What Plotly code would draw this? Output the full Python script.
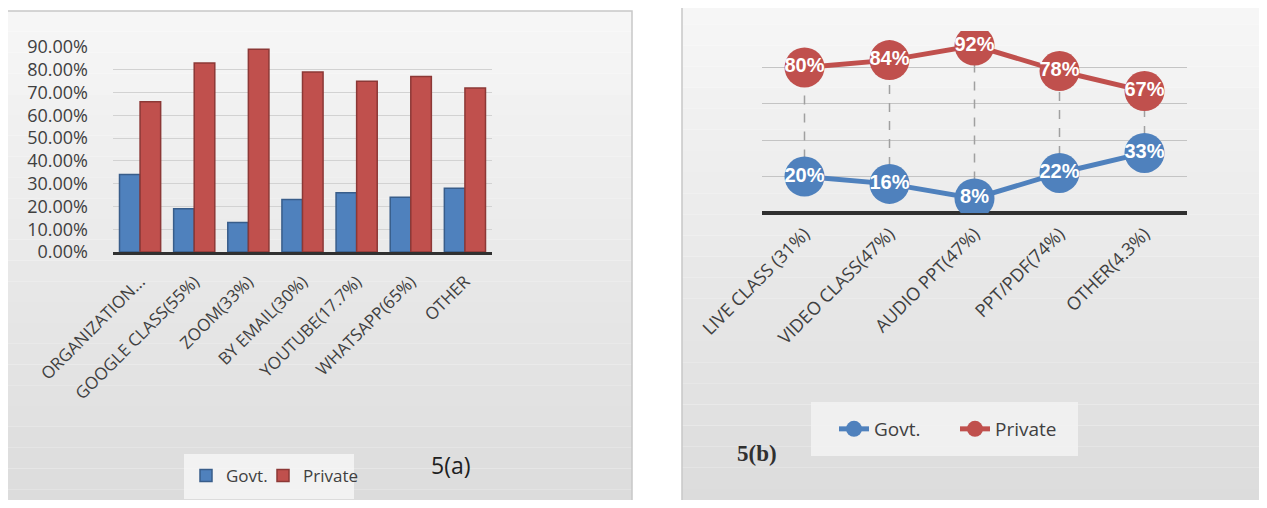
import plotly.graph_objects as go

# page has an 8px body margin; size the figure so that no scrollbars appear
OFF = 8
W, H = 1267 - 2 * OFF, 508 - 2 * OFF

# ---- data: 5(a) ----
cats_a = ["ORGANIZATION...", "GOOGLE CLASS(55%)", "ZOOM(33%)", "BY EMAIL(30%)",
          "YOUTUBE(17.7%)", "WHATSAPP(65%)", "OTHER"]
govt_a = [0.34, 0.19, 0.13, 0.23, 0.26, 0.24, 0.28]
priv_a = [0.66, 0.83, 0.89, 0.79, 0.75, 0.77, 0.72]
yticks_a = [0.0, 0.1, 0.2, 0.3, 0.4, 0.5, 0.6, 0.7, 0.8, 0.9]

# ---- data: 5(b) ----
cats_b = ["LIVE CLASS (31%)", "VIDEO CLASS(47%)", "AUDIO PPT(47%)", "PPT/PDF(74%)", "OTHER(4.3%)"]
govt_b = [20, 16, 8, 22, 33]
priv_b = [80, 84, 92, 78, 67]

BLUE = "#4F81BD"
RED = "#C0504D"
TXT = "#404040"
FONT = "Open Sans"


def px(x):
    return (x - OFF) / W


def py(y):
    return 1 - (y - OFF) / H


fig = go.Figure()

# --- left: bars ---
fig.add_trace(go.Bar(x=cats_a, y=govt_a, name="Govt.", marker=dict(color=BLUE, line=dict(color="#385D8A", width=1.5)),
                     xaxis="x", yaxis="y", legend="legend"))
fig.add_trace(go.Bar(x=cats_a, y=priv_a, name="Private", marker=dict(color=RED, line=dict(color="#8C3836", width=1.5)),
                     xaxis="x", yaxis="y", legend="legend3"))

# --- right: lines ---
drop_x, drop_y = [], []
for c, g, p in zip(cats_b, govt_b, priv_b):
    drop_x += [c, c, None]
    drop_y += [g, p, None]
fig.add_trace(go.Scatter(x=drop_x, y=drop_y, mode="lines", line=dict(color="#a0a0a0", width=1.5, dash="dash"),
                         showlegend=False, hoverinfo="skip", xaxis="x2", yaxis="y2"))
fig.add_trace(go.Scatter(x=cats_b, y=govt_b, name="Govt.", mode="lines+markers+text",
                         line=dict(color=BLUE, width=5), marker=dict(color=BLUE, size=40),
                         text=[f"{v}%" for v in govt_b], textposition="middle center",
                         textfont=dict(color="white", size=20, family="Liberation Sans", weight="bold"),
                         xaxis="x2", yaxis="y2", legend="legend2"))
fig.add_trace(go.Scatter(x=cats_b, y=priv_b, name="Private", mode="lines+markers+text",
                         line=dict(color=RED, width=5), marker=dict(color=RED, size=40),
                         text=[f"{v}%" for v in priv_b], textposition="middle center",
                         textfont=dict(color="white", size=20, family="Liberation Sans", weight="bold"),
                         xaxis="x2", yaxis="y2", legend="legend4"))

# --- panel backgrounds (vertical gradient bands) ---
shapes = []
nb = 24
for i in range(nb):
    t = i / (nb - 1)
    v = int(round(246 - t * 26))
    col = f"rgb({v},{v},{v})"
    y0 = py(11 + (510 - 11) * i / nb)
    y1 = py(11 + (510 - 11) * (i + 1) / nb)
    shapes.append(dict(type="rect", xref="paper", yref="paper", x0=px(7), x1=px(632), y0=y1, y1=y0,
                       fillcolor=col, line=dict(width=0), layer="below"))
    y0b = py(3 + (510 - 3) * i / nb)
    y1b = py(3 + (510 - 3) * (i + 1) / nb)
    shapes.append(dict(type="rect", xref="paper", yref="paper", x0=px(682), x1=px(1270), y0=y1b, y1=y0b,
                       fillcolor=col, line=dict(width=0), layer="below"))
# panel borders
shapes.append(dict(type="rect", xref="paper", yref="paper", x0=px(7), x1=px(632), y0=py(512), y1=py(11),
                   line=dict(color="#c8c8c8", width=1.5), fillcolor="rgba(0,0,0,0)", layer="below"))
shapes.append(dict(type="rect", xref="paper", yref="paper", x0=px(682), x1=px(1280), y0=py(512), y1=py(3),
                   line=dict(color="#c8c8c8", width=1.5), fillcolor="rgba(0,0,0,0)", layer="below"))
# legend boxes
shapes.append(dict(type="rect", xref="paper", yref="paper", x0=px(184), x1=px(354), y0=py(499), y1=py(454),
                   line=dict(width=0), fillcolor="rgba(246,246,246,0.85)", layer="below"))
shapes.append(dict(type="rect", xref="paper", yref="paper", x0=px(811), x1=px(1078), y0=py(456), y1=py(402),
                   line=dict(width=0), fillcolor="rgba(242,242,242,0.9)", layer="below"))


def leg(x, y, size):
    return dict(x=px(x), y=py(y), xanchor="left", yanchor="middle", orientation="h",
                bgcolor="rgba(0,0,0,0)", font=dict(size=size, color=TXT), itemwidth=30, borderwidth=0)


fig.update_layout(
    width=W, height=H,
    autosize=False,
    margin=dict(l=0, r=0, t=0, b=0, pad=0, autoexpand=False),
    paper_bgcolor="white",
    plot_bgcolor="rgba(0,0,0,0)",
    font=dict(family=FONT, color=TXT),
    shapes=shapes,
    barmode="group", bargap=0.24, bargroupgap=0.0,
    xaxis=dict(domain=[px(113), px(492)], anchor="y", tickangle=-45, tickfont=dict(size=17, color=TXT),
               showline=True, linecolor="#303030", linewidth=3, showgrid=False, ticks="", fixedrange=True,
               automargin=False, ticklabelstandoff=10),
    yaxis=dict(domain=[py(252), py(47)], anchor="x", range=[0, 0.9], tickvals=yticks_a, tickformat=".2%",
               tickfont=dict(size=18, color=TXT), showgrid=True, gridcolor="#d2d2d2", gridwidth=1,
               zeroline=False, ticklabelstandoff=24, showline=False, automargin=False),
    xaxis2=dict(domain=[px(762), px(1187)], anchor="y2", range=[-0.5, 4.5], tickangle=-45,
                tickfont=dict(size=18, color=TXT), showline=False, showgrid=False, ticks="", zeroline=False,
                automargin=False, ticklabelstandoff=6),
    yaxis2=dict(domain=[py(213), py(31)], anchor="x2", range=[0, 100], dtick=20, showticklabels=False,
                showgrid=True, gridcolor="#c4c4c4", gridwidth=1.2, zeroline=True, zerolinecolor="#303030",
                zerolinewidth=4, showline=False, automargin=False),
    legend=leg(186, 476, 17),
    legend3=leg(263, 476, 17),
    legend2=leg(834, 429, 19),
    legend4=leg(955, 429, 19),
    annotations=[
        dict(text="5(a)", x=px(451), y=py(465), xref="paper", yref="paper", showarrow=False,
             xanchor="center", yanchor="middle",
             font=dict(size=23, color="#202020", family=FONT)),
        dict(text="<b>5(b)</b>", x=px(757), y=py(453), xref="paper", yref="paper", showarrow=False,
             xanchor="center", yanchor="middle",
             font=dict(size=23, color="#303030", family="Liberation Serif")),
    ],
)

fig.write_html("out.html")
